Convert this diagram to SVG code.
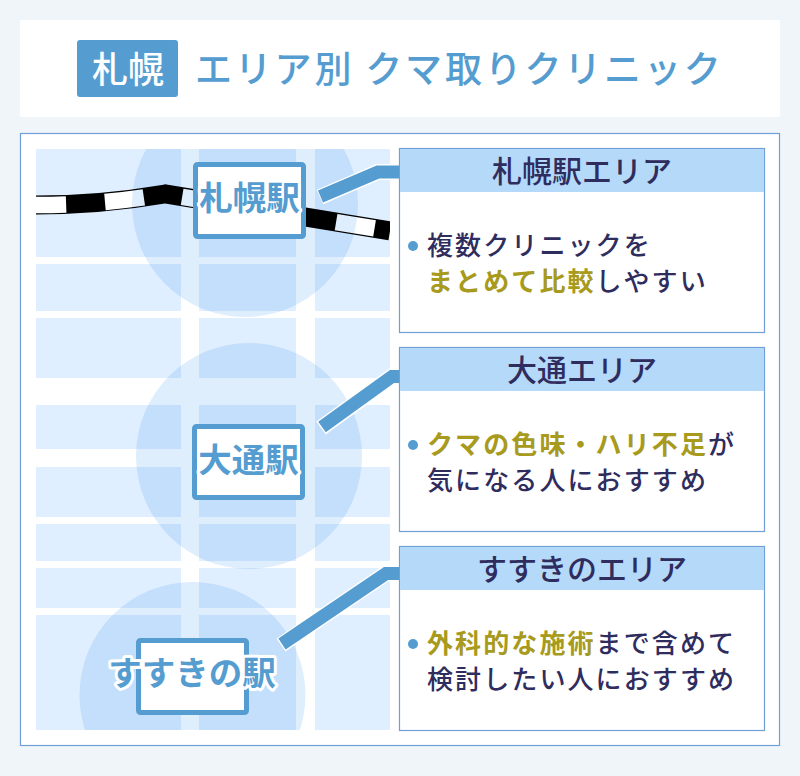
<svg xmlns="http://www.w3.org/2000/svg" width="800" height="776" viewBox="0 0 800 776">
<style>
text{font-family:"Noto Sans CJK JP","Noto Sans",sans-serif}
.blk{fill:#dfefff}
.area{fill:#dfeefc;mix-blend-mode:multiply}
.box{fill:#fff;stroke:#559cd0;stroke-width:5}
.st{font-size:33.5px;font-weight:700;fill:#559cd0;stroke:#fff;stroke-width:6;stroke-linejoin:round;paint-order:stroke;text-anchor:middle}
.ld{fill:none;stroke-linejoin:miter}
.ldo{stroke:#fff;stroke-width:16}
.ldi{stroke:#559cd0;stroke-width:13}
.pn{fill:#fff;stroke:#6f9fd6;stroke-width:1.2}
.ph{fill:#b5d9f8}
.pt{font-size:30px;font-weight:500;fill:#2f2c5e;text-anchor:middle}
.bd{font-size:26px;letter-spacing:2.1px;font-weight:500;fill:#2f2c5e}
.gd{fill:#a79a1c;font-weight:700}
.bl{fill:#559cd0}
</style>
<defs><clipPath id="mapclip"><rect x="36" y="149" width="354" height="581"/></clipPath></defs>
<rect width="800" height="776" fill="#f0f5fa"/>
<g id="header">
<rect x="20" y="20" width="760" height="97" fill="#fff"/>
<rect x="77" y="40" width="101" height="57" rx="3" fill="#559cd0"/>
<text x="128" y="83" font-size="36" font-weight="500" fill="#fff" text-anchor="middle">札幌</text>
<text x="195" y="83" font-size="37" font-weight="500" letter-spacing="2.8" fill="#559cd0">エリア別 クマ取りクリニック</text>
</g>
<rect x="20.500" y="133.500" width="759" height="612" fill="#fff" stroke="#6f9fd6" stroke-width="1.2"/>
<g id="map" clip-path="url(#mapclip)">
<g id="blocks">
<rect class="blk" x="36" y="149" width="145" height="108"/><rect class="blk" x="199" y="149" width="97" height="108"/><rect class="blk" x="315" y="149" width="75" height="108"/>
<rect class="blk" x="36" y="264" width="145" height="47"/><rect class="blk" x="199" y="264" width="97" height="47"/><rect class="blk" x="315" y="264" width="75" height="47"/>
<rect class="blk" x="36" y="318" width="145" height="60"/><rect class="blk" x="199" y="318" width="97" height="60"/><rect class="blk" x="315" y="318" width="75" height="60"/>
<rect class="blk" x="36" y="405" width="145" height="44"/><rect class="blk" x="199" y="405" width="97" height="44"/><rect class="blk" x="315" y="405" width="75" height="44"/>
<rect class="blk" x="36" y="467" width="145" height="50"/><rect class="blk" x="199" y="467" width="97" height="50"/><rect class="blk" x="315" y="467" width="75" height="50"/>
<rect class="blk" x="36" y="524" width="145" height="37"/><rect class="blk" x="199" y="524" width="97" height="37"/><rect class="blk" x="315" y="524" width="75" height="37"/>
<rect class="blk" x="36" y="568" width="145" height="40"/><rect class="blk" x="199" y="568" width="97" height="40"/><rect class="blk" x="315" y="568" width="75" height="40"/>
<rect class="blk" x="36" y="615" width="145" height="115"/><rect class="blk" x="199" y="615" width="97" height="115"/><rect class="blk" x="315" y="615" width="75" height="115"/>
</g>
<g id="railway" fill="none">
<path d="M36 205C90 205 130 200 165 194L390 231" stroke="#000" stroke-width="19"/>
<path d="M36 205C90 205 130 200 165 194L390 231" stroke="#fff" stroke-width="16.500" stroke-dasharray="39 39" stroke-dashoffset="9"/>
</g>
<circle class="area" cx="245" cy="204" r="113"/>
<circle class="area" cx="249" cy="456" r="113"/>
<circle class="area" cx="192.500" cy="695" r="113"/>
</g>
<g id="connectors">
<path class="ld ldo" d="M320 197L378 172H400"/><path class="ld ldi" d="M320.500 196.500L378 172H400"/>
<path class="ld ldo" d="M321 428L392 376.500H400"/><path class="ld ldi" d="M322 427L392 376.500H400"/>
<path class="ld ldo" d="M281 645L386 573.500H400"/><path class="ld ldi" d="M282 644L386 573.500H400"/>
</g>
<g id="station-sapporo">
<rect class="box" x="195.500" y="164.500" width="108" height="72" rx="2"/>
<text class="st" x="249.500" y="210">札幌駅</text>
</g>
<g id="station-odori">
<rect class="box" x="194.500" y="426.500" width="108" height="71" rx="2"/>
<text class="st" x="248.500" y="472">大通駅</text>
</g>
<g id="station-susukino">
<rect class="box" x="138.500" y="640.500" width="108" height="72" rx="2"/>
<text class="st" x="192" y="685">すすきの駅</text>
</g>
<g id="panel-sapporo">
<rect class="pn" x="399.500" y="148.500" width="365" height="184"/>
<rect class="ph" x="400" y="149" width="364" height="43"/>
<text class="pt" x="582" y="182">札幌駅エリア</text>
<circle class="bl" cx="413" cy="246" r="5"/>
<text class="bd" x="427" y="255">複数クリニックを</text>
<text class="bd" x="427" y="291"><tspan class="gd">まとめて比較</tspan>しやすい</text>
</g>
<g id="panel-odori">
<rect class="pn" x="399.500" y="347.500" width="365" height="184"/>
<rect class="ph" x="400" y="348" width="364" height="43"/>
<text class="pt" x="582" y="381">大通エリア</text>
<circle class="bl" cx="413" cy="445" r="5"/>
<text class="bd" x="427" y="454"><tspan class="gd">クマの色味・ハリ不足</tspan>が</text>
<text class="bd" x="427" y="490">気になる人におすすめ</text>
</g>
<g id="panel-susukino">
<rect class="pn" x="399.500" y="546.500" width="365" height="184"/>
<rect class="ph" x="400" y="547" width="364" height="43"/>
<text class="pt" x="582" y="580">すすきのエリア</text>
<circle class="bl" cx="413" cy="644" r="5"/>
<text class="bd" x="427" y="653"><tspan class="gd">外科的な施術</tspan>まで含めて</text>
<text class="bd" x="427" y="689">検討したい人におすすめ</text>
</g>
</svg>
